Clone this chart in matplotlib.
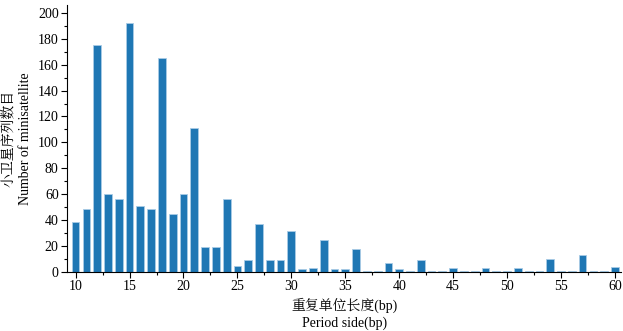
import numpy as np
import matplotlib
matplotlib.use('Agg')
import matplotlib.pyplot as plt
from matplotlib.ticker import MultipleLocator

plt.rcParams['font.family'] = ['Liberation Serif', 'Noto Serif CJK SC']

period = np.arange(10, 61)
counts = [39, 49, 175, 60, 56, 192, 51, 49, 165, 45,
          60, 111, 19, 19, 56, 5, 9, 37, 9, 9,
          32, 2, 3, 25, 2, 2, 18, 0.5, 0.5, 7,
          2, 0.5, 9, 0.5, 0.5, 3, 0.5, 0.5, 3, 0.5,
          0.5, 3, 0.5, 0.5, 10, 0.5, 0.5, 13, 0.5, 0.5,
          4]

fig = plt.figure(figsize=(6.23, 3.31), dpi=100)
ax = fig.add_axes([0.1075, 0.178, 0.89, 0.807])
ax.bar(period, counts, width=0.72, color='#1f77b4', edgecolor='#a9cbe6', linewidth=0.6)

ax.set_xlim(9.2, 60.6)
ax.set_ylim(0, 206)
ax.xaxis.set_major_locator(MultipleLocator(5))
ax.xaxis.set_minor_locator(MultipleLocator(2.5))
ax.yaxis.set_major_locator(MultipleLocator(20))
ax.yaxis.set_minor_locator(MultipleLocator(10))
ax.tick_params(which='major', direction='out', length=4, width=0.8, labelsize=10, pad=2)
ax.tick_params(which='minor', direction='out', length=2.5, width=0.8)
for s in ['top', 'right']:
    ax.spines[s].set_visible(False)

ax.set_xlabel('重复单位长度(bp)\nPeriod side(bp)', fontsize=10, labelpad=3, linespacing=1.3)
ax.set_ylabel('小卫星序列数目\nNumber of minisatellite', fontsize=10, labelpad=4, linespacing=1.3)

fig.savefig('out.png', dpi=100)
